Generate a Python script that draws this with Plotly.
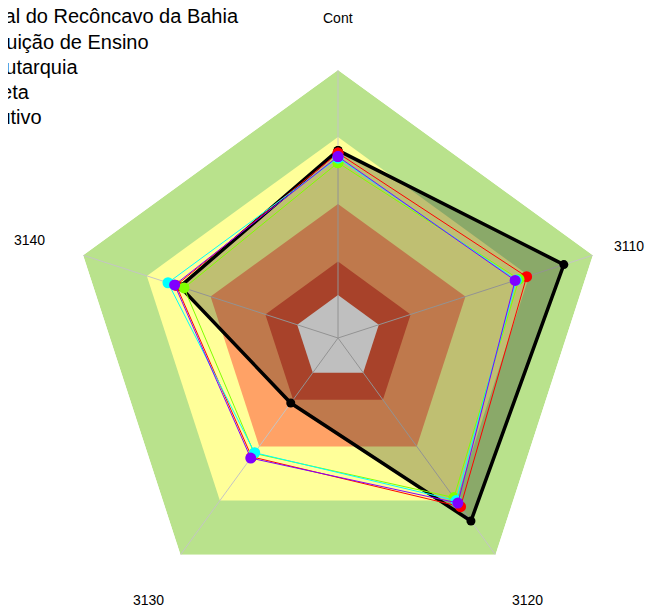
import math
import plotly.graph_objects as go

# axes of the radar, clockwise from the top
categories = ['Cont', '3110', '3120', '3130', '3140']

# background bands (outer edge of each band, 0..1)
band_edges = [1.0, 0.75, 0.5, 0.285, 0.16]
band_colors = ['#b9e28c', '#ffff99', '#ffa266', '#e05838', '#ffffff']

# series
series_names = [
    'Universidade Federal do Recôncavo da Bahia',
    'Média Instituição de Ensino',
    'Média Autarquia',
    'Média Administração Indireta',
    'Média Poder Executivo',
]
series_colors = ['#000000', '#ff0000', '#80ff00', '#00ffff', '#8000ff']
ufrb = [0.70, 0.886, 0.844, 0.30, 0.62]
ensino = [0.69, 0.74, 0.778, 0.548, 0.635]
autarquia = [0.654, 0.71, 0.736, 0.532, 0.604]
indireta = [0.672, 0.70, 0.75, 0.529, 0.667]
executivo = [0.677, 0.695, 0.761, 0.554, 0.641]
series_values = [ufrb, ensino, autarquia, indireta, executivo]

# where the axis names sit (in radar units)
label_r = [1.2, 1.14, 1.2, 1.2, 1.21]

# page body has an 8px margin, so the figure is a bit smaller
W, H = 654, 602
CX, CY, R = 330, 330, 268


def closed(vals):
    return list(vals) + [vals[0]]


theta = closed(categories)
fig = go.Figure()

for edge, col in zip(band_edges, band_colors):
    fig.add_trace(go.Scatterpolar(r=[edge] * 6, theta=theta, mode='lines', fill='toself',
                                  fillcolor=col, line=dict(width=0, color=col),
                                  hoverinfo='skip', showlegend=False))

# spokes
spoke_r, spoke_t = [], []
for c in categories:
    spoke_r += [0, 1, None]
    spoke_t += [c, c, None]
fig.add_trace(go.Scatterpolar(r=spoke_r, theta=spoke_t, mode='lines',
                              line=dict(width=1, color='#c4c4c4'),
                              hoverinfo='skip', showlegend=False))

for i, (name, col, vals) in enumerate(zip(series_names, series_colors, series_values)):
    if i == 0:
        fig.add_trace(go.Scatterpolar(r=closed(vals), theta=theta, name=name, mode='lines+markers',
                                      fill='toself', fillcolor='rgba(0,0,0,0.25)',
                                      line=dict(color=col, width=3.5),
                                      marker=dict(size=9, color=col), showlegend=False))
    else:
        fig.add_trace(go.Scatterpolar(r=closed(vals), theta=theta, name=name, mode='lines+markers',
                                      line=dict(color=col, width=1),
                                      marker=dict(size=11, color=col), showlegend=False))

annotations = []
# axis names around the radar
for k, (lab, rr) in enumerate(zip(categories, label_r)):
    a = math.radians(72 * k)
    px = CX + rr * R * math.sin(a)
    py = CY - rr * R * math.cos(a)
    annotations.append(dict(x=px / W, y=1 - py / H, xref='paper', yref='paper', text=lab,
                            showarrow=False, xanchor='center', yanchor='middle', yshift=-2,
                            font=dict(size=14, color='black')))

# legend text (runs off the left edge like the original)
legend_right = [233, 143, 72, 24, 36]
legend_mid = [8, 34, 59, 84, 109]
for name, xr, ym in zip(series_names, legend_right, legend_mid):
    annotations.append(dict(x=xr / W, y=1 - ym / H, xref='paper', yref='paper', text=name,
                            showarrow=False, xanchor='right', yanchor='middle', align='left',
                            font=dict(size=20, color='black')))

fig.update_layout(
    width=W, height=H,
    margin=dict(l=0, r=0, t=0, b=0, autoexpand=False),
    paper_bgcolor='white',
    font=dict(family='Liberation Sans, Arial, sans-serif', color='black'),
    polar=dict(
        domain=dict(x=[(CX - R) / W, (CX + R) / W], y=[1 - (CY + R) / H, 1 - (CY - R) / H]),
        gridshape='linear',
        bgcolor='white',
        radialaxis=dict(range=[0, 1], visible=False),
        angularaxis=dict(direction='clockwise', rotation=90, showgrid=False,
                         showline=False, showticklabels=False, ticks=''),
    ),
    annotations=annotations,
    showlegend=False,
)

fig.write_html("out.html")
